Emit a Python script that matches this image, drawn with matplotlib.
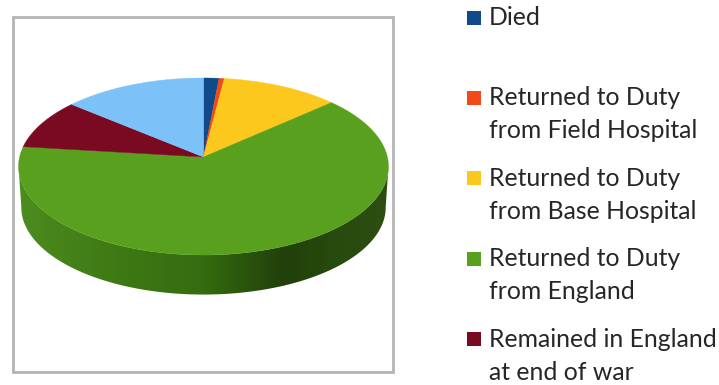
import matplotlib
matplotlib.use('Agg')
import matplotlib.pyplot as plt
from matplotlib.colors import LinearSegmentedColormap
from matplotlib.patches import Polygon, Rectangle
import numpy as np

# shares of the pie, clockwise from 12 o'clock (percent)
slice_values = [1.5, 0.5, 11.4, 63.5, 9.2, 13.9]
slice_colors = ['#0f4a8a', '#f04a1a', '#fdc81e', '#58a01e', '#7a0a22', '#7cc2f8']
legend_labels = ['Died',
                 'Returned to Duty\nfrom Field Hospital',
                 'Returned to Duty\nfrom Base Hospital',
                 'Returned to Duty\nfrom England',
                 'Remained in England\nat end of war']

# pie geometry in pixels, with a small perspective so the apex sits above the middle
cx, cy = 203.5, 157
a, b, c = 87.5, 0.1074, 183.9
depth = 41


def project(theta, shrink=1.0, drop=0.0):
    u, v = np.sin(theta), np.cos(theta)
    x = cx + shrink * c * u / (1 + b * v)
    y = cy - shrink * a * v / (1 + b * v) + drop
    return x, y


fig = plt.figure(figsize=(7.19, 3.85), dpi=100)
ax = fig.add_axes([0, 0, 1, 1])
ax.axis('off')

ax.add_patch(Rectangle((13, 17), 380, 355, facecolor='white', edgecolor='#b4b4b4', lw=2))

# side wall, only the green slice is seen from the front
wall = np.radians(np.linspace(96, 264, 200))
x_top, y_top = project(wall)
x_bot, y_bot = project(wall, shrink=0.985, drop=depth)
wall_cmap = LinearSegmentedColormap.from_list('wall', [
    (0.0, '#4c8c1e'), (0.22, '#417c16'), (0.5, '#356c10'),
    (0.72, '#21400a'), (0.85, '#274a0e'), (1.0, '#2c4e10')])
wall_shape = Polygon(np.c_[np.r_[x_top, x_bot[::-1]], np.r_[y_top, y_bot[::-1]]],
                     facecolor='none', edgecolor='none')
ax.add_patch(wall_shape)
grad = ax.imshow(np.linspace(0, 1, 370).reshape(1, -1), cmap=wall_cmap, aspect='auto',
                 extent=(18, 388, 300, 150), interpolation='bilinear', zorder=1.5)
grad.set_clip_path(wall_shape)

# top face
edges = np.cumsum([0] + slice_values) / sum(slice_values) * 2 * np.pi
for i, col in enumerate(slice_colors):
    th = np.linspace(edges[i], edges[i + 1], 80)
    px, py = project(th)
    ax.fill(np.r_[cx, px], np.r_[cy, py], color=col, lw=0.3, zorder=2)

# legend
for i, label in enumerate(legend_labels):
    yy = 17.5 + 80.4 * i
    ax.add_patch(Rectangle((467, yy - 7), 14, 14, facecolor=slice_colors[i], edgecolor='none'))
    for j, line in enumerate(label.split('\n')):
        ax.text(489, yy + 7.5 + 33 * j, line, family='Lato', fontsize=17.8, color='#262626',
                va='baseline', ha='left')

ax.set_xlim(0, 719)
ax.set_ylim(385, 0)

fig.savefig('out.png', dpi=100)
